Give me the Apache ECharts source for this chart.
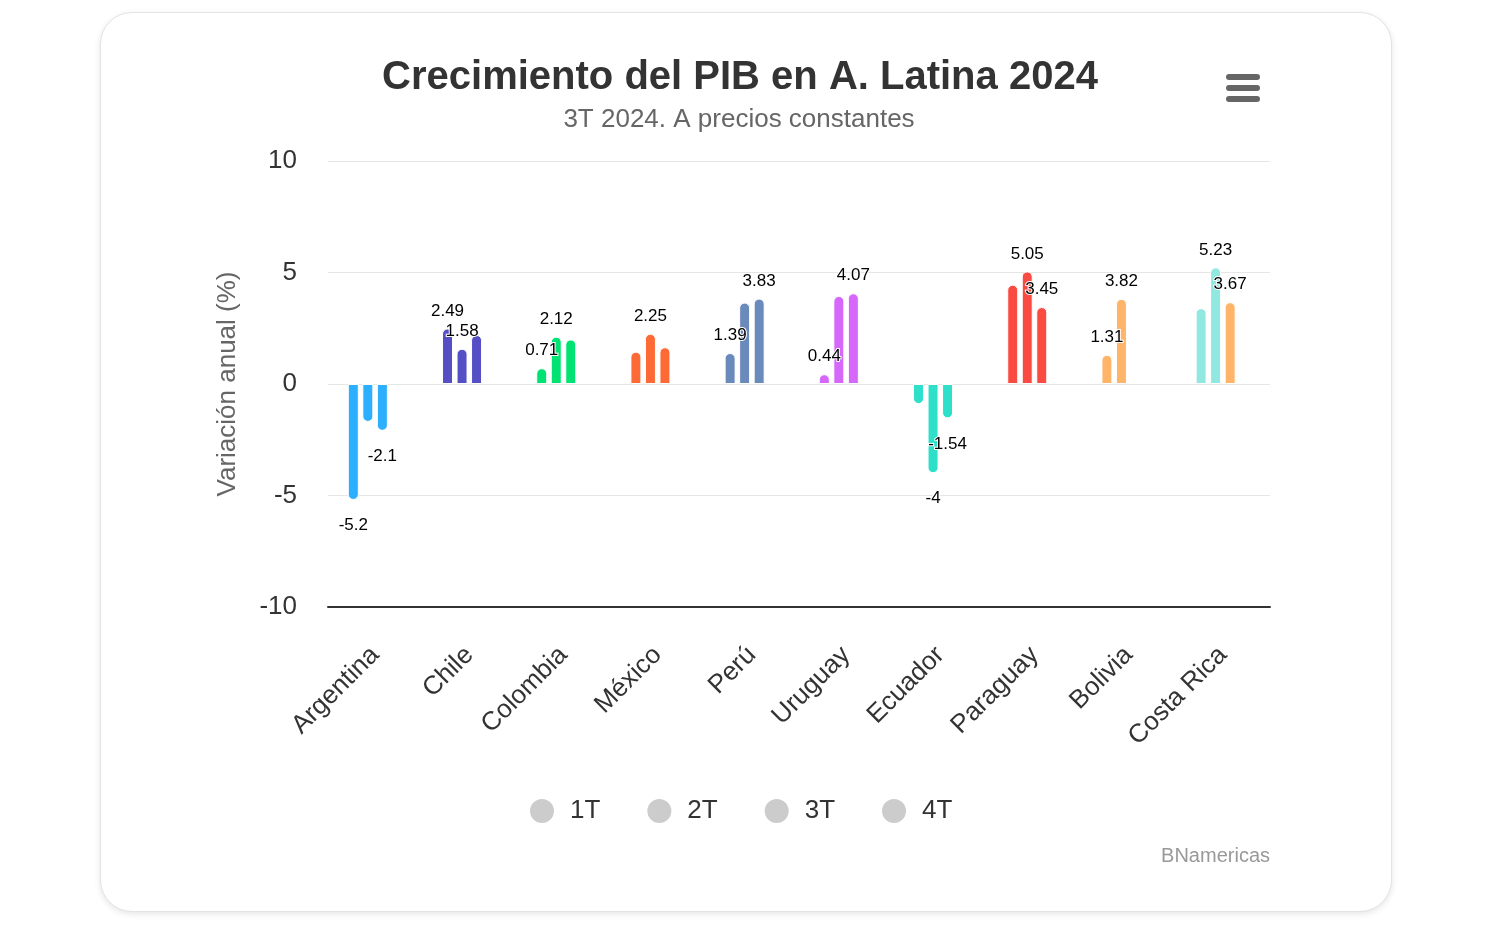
<!DOCTYPE html>
<html>
<head>
<meta charset="utf-8">
<script src="https://cdn.jsdelivr.net/npm/echarts@6/dist/echarts.min.js"></script>
<style>
  html, body { margin: 0; padding: 0; background: #ffffff; width: 1494px; height: 931px; overflow: hidden; }
  #card { position: absolute; left: 100px; top: 12px; width: 1290px; height: 898px; border: 1px solid #e3e3e3; border-radius: 32px; box-shadow: 0 2px 6px rgba(0,0,0,0.10); background: #fff; }
  #chart { position: absolute; left: 0; top: 0; width: 1494px; height: 931px; }
</style>
</head>
<body>
<div id="card"></div>
<div id="chart"></div>
<script>
// ---- data ----
const categories = ['Argentina', 'Chile', 'Colombia', 'México', 'Perú', 'Uruguay', 'Ecuador', 'Paraguay', 'Bolivia', 'Costa Rica'];
const seriesNames = ['1T', '2T', '3T', '4T'];
const values1T = [-5.2, 2.49, 0.71, 1.45, 1.39, 0.44, -0.9, 4.45, 1.31, 3.4];
const values2T = [-1.7, 1.58, 2.12, 2.25, 3.65, 3.95, -4, 5.05, 3.82, 5.23];
const values3T = [-2.1, 2.2, 2.0, 1.65, 3.83, 4.07, -1.54, 3.45, null, 3.67];
const values4T = [null, null, null, null, null, null, null, null, null, null];
// which data labels are visible in the reference (others hidden by overlap)
const showLabel1T = [1, 1, 1, 0, 1, 1, 0, 0, 1, 0];
const showLabel2T = [0, 1, 1, 1, 0, 0, 1, 1, 1, 1];
const showLabel3T = [1, 0, 0, 0, 1, 1, 1, 1, 0, 1];
const showLabel4T = [0, 0, 0, 0, 0, 0, 0, 0, 0, 0];
const yTicks = [-10, -5, 0, 5, 10];

// ---- styles ----
const palette = ['#2caffe', '#544fc5', '#00e272', '#fe6a35', '#6b8abc', '#d568fb', '#2ee0ca', '#fa4b42', '#feb56a', '#91e8e1'];
const colors3T = ['#2caffe', '#544fc5', '#00e272', '#fe6a35', '#6b8abc', '#d568fb', '#2ee0ca', '#fa4b42', '#feb56a', '#feb56a'];
const FONT = '"Liberation Sans", Arial, Helvetica, sans-serif';

function buildData(values, colors, show) {
  return values.map((v, i) => {
    if (v === null) return null;
    const neg = v < 0;
    return {
      value: v,
      itemStyle: {
        color: colors[i],
        borderRadius: neg ? [0, 0, 5, 5] : [5, 5, 0, 0]
      },
      label: {
        show: !!show[i],
        position: neg ? 'bottom' : 'top',
        distance: neg ? 17 : 9
      }
    };
  });
}

const allValues = [values1T, values2T, values3T, values4T];
const allColors = [palette, palette, colors3T, palette];
const allShow = [showLabel1T, showLabel2T, showLabel3T, showLabel4T];

const series = seriesNames.map((name, k) => ({
  name: name,
  type: 'bar',
  barWidth: 11,
  barGap: '32%',
  itemStyle: { color: '#cccccc', borderColor: '#ffffff', borderWidth: 1 },
  label: {
    show: false,
    fontSize: 17,
    fontFamily: FONT,
    color: '#000000',
    textBorderColor: '#ffffff',
    textBorderWidth: 2,
    formatter: (p) => String(p.value)
  },
  emphasis: { disabled: true },
  data: buildData(allValues[k], allColors[k], allShow[k])
}));

const chart = echarts.init(document.getElementById('chart'), null, { renderer: 'canvas' });
chart.setOption({
  backgroundColor: 'transparent',
  animation: false,
  textStyle: { fontFamily: FONT },
  grid: { left: 328, right: 224, top: 161, bottom: 324, containLabel: false },
  legend: {
    data: seriesNames,
    left: 528,
    top: 797,
    padding: 0,
    icon: 'circle',
    itemWidth: 26,
    itemHeight: 26,
    itemGap: 45,
    inactiveColor: '#cccccc',
    textStyle: { fontSize: 26, color: '#333333', fontFamily: FONT, padding: [0, 0, 0, 10] }
  },
  xAxis: {
    type: 'category',
    data: categories,
    axisLine: { show: true, onZero: false, lineStyle: { color: '#333333', width: 2 } },
    axisTick: { show: false },
    axisLabel: { rotate: 45, fontSize: 26, color: '#333333', fontFamily: FONT, margin: 44, interval: 0 },
    splitLine: { show: false }
  },
  yAxis: {
    type: 'value',
    min: -10,
    max: 10,
    interval: 5,
    name: 'Variación anual (%)',
    nameLocation: 'middle',
    nameGap: 87,
    nameRotate: 90,
    nameTextStyle: { fontSize: 26, color: '#666666', fontFamily: FONT },
    axisLine: { show: false },
    axisTick: { show: false },
    axisLabel: { fontSize: 26, color: '#333333', fontFamily: FONT, margin: 31,
      formatter: (v) => yTicks.includes(v) ? String(v) : '' },
    splitLine: { lineStyle: { color: '#e6e6e6', width: 1 } }
  },
  graphic: [
    { type: 'text', x: 740, y: 78, style: { text: 'Crecimiento del PIB en A. Latina 2024', fill: '#333333', font: 'bold 40px ' + FONT, textAlign: 'center', textVerticalAlign: 'middle' } },
    { type: 'text', x: 739, y: 120, style: { text: '3T 2024. A precios constantes', fill: '#666666', font: '26px ' + FONT, textAlign: 'center', textVerticalAlign: 'middle' } },
    { type: 'text', x: 1270, y: 856, style: { text: 'BNamericas', fill: '#999999', font: '20px ' + FONT, textAlign: 'right', textVerticalAlign: 'middle' } },
    { type: 'line', shape: { x1: 1229, y1: 77, x2: 1257, y2: 77 }, style: { stroke: '#666666', lineWidth: 6, lineCap: 'round' } },
    { type: 'line', shape: { x1: 1229, y1: 88, x2: 1257, y2: 88 }, style: { stroke: '#666666', lineWidth: 6, lineCap: 'round' } },
    { type: 'line', shape: { x1: 1229, y1: 99, x2: 1257, y2: 99 }, style: { stroke: '#666666', lineWidth: 6, lineCap: 'round' } }
  ],
  series: series
});
</script>
</body>
</html>
